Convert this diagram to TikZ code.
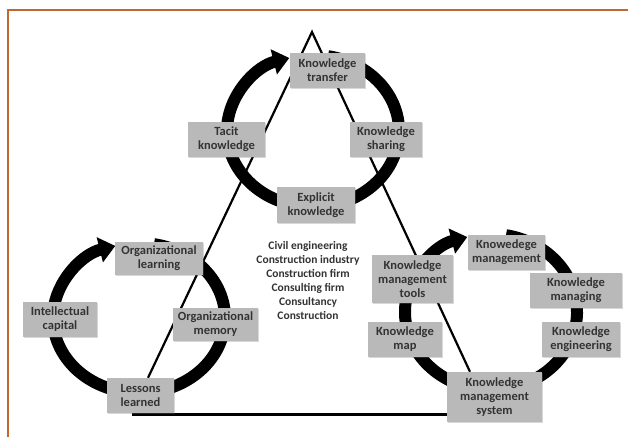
\documentclass[tikz,border=0pt]{standalone}
\usepackage{fontspec}
\setmainfont{Carlito}
\usetikzlibrary{arrows.meta, backgrounds, shadows}
\definecolor{boxgray}{HTML}{B9B9B9}
\definecolor{txtgray}{HTML}{333333}
\definecolor{framebrown}{RGB}{190,105,50}

\begin{document}
\begin{tikzpicture}[x=1pt, y=1pt,
		box/.style 2 args={fill=boxgray, text=txtgray, align=center, inner sep=0pt,
			font=\fontsize{12.5}{14}\selectfont\bfseries,
			minimum width=#1pt, minimum height=#2pt,
			drop shadow={shadow xshift=1pt, shadow yshift=-1pt, opacity=0.3}},
		ring/.style={line width=12pt, -{Triangle[width=25pt, length=16pt]}},
		side/.style={line width=2.2pt}]
	\useasboundingbox (0,0) rectangle (628,-437);

	% top cycle
	\node[box={75}{35}] (transfer) at (327.5,-70.5) {Knowledge\\transfer};
	\node[box={77}{35}] (tacit) at (226.5,-139.5) {Tacit\\knowledge};
	\node[box={72}{35}] (sharing) at (386,-139.5) {Knowledge\\sharing};
	\node[box={78}{36}] (explicit) at (316,-205) {Explicit\\knowledge};

	% left cycle
	\node[box={88}{33}] (orglearn) at (159,-258) {Organizational\\learning};
	\node[box={74}{35}] (intcap) at (60,-319.5) {Intellectual\\capital};
	\node[box={85}{33}] (orgmem) at (215.5,-324) {Organizational\\memory};
	\node[box={67}{35}] (lessons) at (140.5,-395.5) {Lessons\\learned};

	% right cycle
	\node[box={81}{48}] (kmtools) at (412.5,-279) {Knowledge\\management\\tools};
	\node[box={74}{35}] (kmap) at (405,-339.5) {Knowledge\\map};
	\node[box={77}{35}] (kman) at (506.5,-252.5) {Knowedege\\management};
	\node[box={92}{35}] (kmanaging) at (576,-290.5) {Knowledge\\managing};
	\node[box={78}{35}] (keng) at (581,-339.5) {Knowledge\\engineering};
	\node[box={95}{50}] (kms) at (494.5,-397) {Knowledge\\management\\system};

	\node[text=txtgray, align=center, font=\fontsize{11.5}{14}\selectfont\bfseries] (fields) at (308,-280)
		{Civil engineering\\Construction industry\\Construction firm\\Consulting firm\\Consultancy\\Construction};

	\coordinate (apex) at (312,-32);

	\begin{scope}[on background layer]
		\fill[white] (0,0) rectangle (628,-437);
		\draw[framebrown, line width=1.5pt] (8,-437) -- (8,-10) -- (628,-10);

		\foreach \cx/\cy/\ry in {313/131/76, 139/318/75, 491/312/78}
		{
			\draw[ring] (\cx,-\cy) ++(80:86pt and \ry pt) arc[start angle=80, end angle=-254, x radius=86pt, y radius=\ry pt];
		}

		\draw[side] ([xshift=7.5pt]lessons.north) -- (apex) -- ([xshift=-24.5pt]kms.north);
		\draw[line width=3pt] ([xshift=-8.5pt,yshift=-1pt]lessons.south) -- ([yshift=-1pt]lessons.south -| kms.west);
	\end{scope}
\end{tikzpicture}
\end{document}
